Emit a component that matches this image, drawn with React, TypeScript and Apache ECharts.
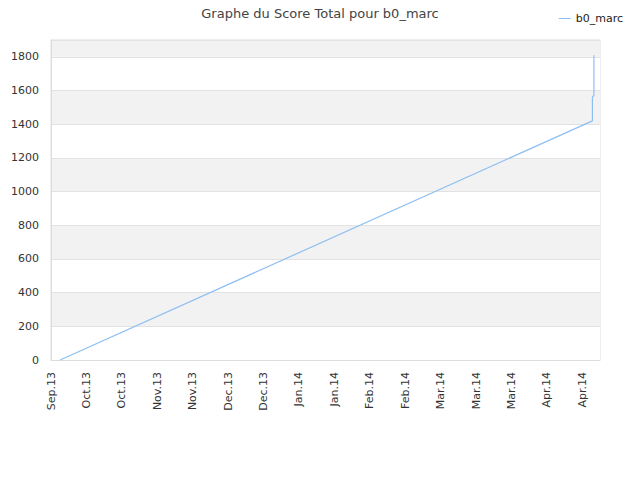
import { useRef, useEffect } from 'react'
import * as echarts from 'echarts'

// x is counted in days from the first tick (Sep.13), one label every 14 days
const tickLabels = ['Sep.13', 'Oct.13', 'Oct.13', 'Nov.13', 'Nov.13', 'Dec.13', 'Dec.13', 'Jan.14',
  'Jan.14', 'Feb.14', 'Feb.14', 'Mar.14', 'Mar.14', 'Mar.14', 'Apr.14', 'Apr.14']
const dayIndex = [3.6, 214, 214, 214.2, 214.6, 214.6]
const scores = [0, 1420, 1560, 1565, 1570, 1810]
const seriesName = 'b0_marc'

const FONT = 'DejaVu Sans'

function App() {
  const chartRef = useRef<HTMLDivElement>(null);

  useEffect(() => {
    if (chartRef.current) {
      const myChart = echarts.init(chartRef.current, null, { renderer: 'svg' });
      const option = {
        animation: false,
        textStyle: { fontFamily: FONT },
        title: {
          text: 'Graphe du Score Total pour ' + seriesName,
          left: 'center',
          top: 2,
          textStyle: { fontSize: 13, fontWeight: 'normal', color: '#444', fontFamily: FONT }
        },
        legend: {
          data: [seriesName],
          right: 12,
          top: 8,
          itemWidth: 12,
          itemHeight: 8,
          icon: 'path://M0,4 L12,4 L12,5 L0,5 Z',
          textStyle: { fontSize: 11, color: '#222', fontFamily: FONT }
        },
        grid: {
          left: 51,
          right: 40,
          top: 40,
          bottom: 120,
          show: true,
          borderColor: '#dddddd',
          borderWidth: 1
        },
        xAxis: {
          type: 'value',
          min: 0,
          max: 217,
          interval: 14,
          axisLine: { show: true, lineStyle: { color: '#dddddd' } },
          axisTick: { show: false },
          splitLine: { show: false },
          axisLabel: {
            rotate: 90,
            fontSize: 11,
            color: '#333',
            margin: 12,
            fontFamily: FONT,
            formatter: (v: number) => (v % 14 === 0 ? tickLabels[v / 14] || '' : '')
          }
        },
        yAxis: {
          type: 'value',
          min: 0,
          max: 1900,
          interval: 200,
          axisLine: { show: true, lineStyle: { color: '#dddddd' } },
          axisTick: { show: false },
          splitLine: { show: true, lineStyle: { color: '#e2e2e2' } },
          splitArea: { show: true, areaStyle: { color: ['#ffffff', '#f2f2f2'] } },
          axisLabel: {
            fontSize: 11,
            color: '#333',
            margin: 12,
            fontFamily: FONT,
            formatter: (v: number) => (v % 200 === 0 ? String(v) : '')
          }
        },
        series: [{
          name: seriesName,
          type: 'line',
          data: dayIndex.map((d, i) => [d, scores[i]]),
          symbol: 'none',
          lineStyle: { color: '#8ebff2', width: 1.2 },
          itemStyle: { color: '#8ebff2' }
        }]
      };
      myChart.setOption(option);

      const handleResize = () => {
        myChart.resize();
      };
      window.addEventListener('resize', handleResize);

      return () => {
        window.removeEventListener('resize', handleResize);
        myChart.dispose();
      };
    }
  }, []);

  return (
    <div ref={chartRef} style={{ width: '640px', height: '480px', margin: '-8px' }}></div>
  )
}

export default App
